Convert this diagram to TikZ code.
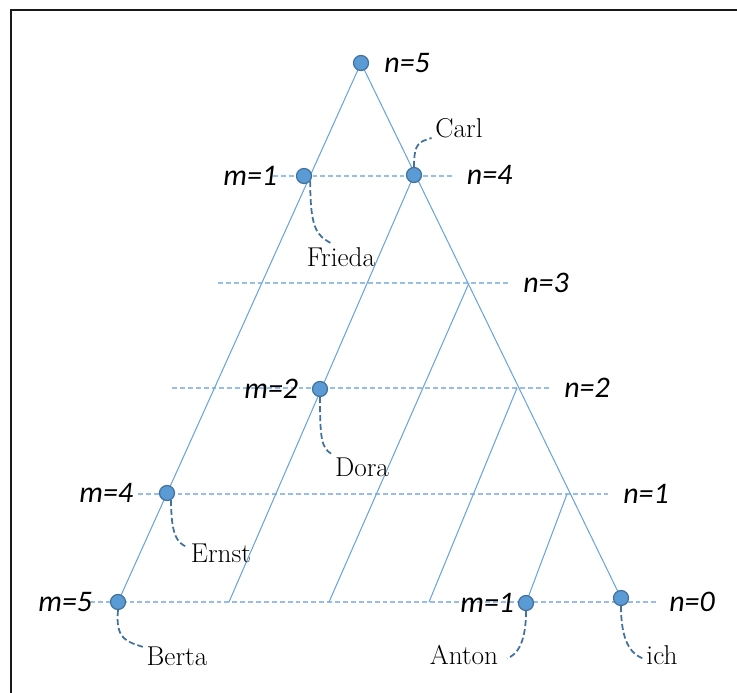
\documentclass[tikz,border=0pt]{standalone}
\usepackage{fontspec}
\usepackage{tikz}
\usetikzlibrary{positioning}
\newfontfamily\calibrifont{Carlito}
\definecolor{dotblue}{RGB}{91,155,213}
\definecolor{dotedge}{RGB}{65,113,156}
\definecolor{lineblue}{RGB}{108,164,220}
\definecolor{rowblue}{RGB}{150,190,230}

\begin{document}
\begin{tikzpicture}[x=0.02cm, y=0.02cm,
    dot/.style={circle, fill=dotblue, draw=dotedge, line width=0.7pt, minimum size=0.3cm, inner sep=0pt},
    tri/.style={lineblue, line width=0.6pt},
    rowline/.style={rowblue, line width=0.6pt, dash pattern=on 2.8pt off 1.7pt},
    callout/.style={dotedge, line width=1pt, dash pattern=on 3.4pt off 1.7pt},
    eq/.style={font=\calibrifont\itshape\fontsize{17}{20}\selectfont, inner sep=2pt},
    person/.style={font=\fontsize{15.5}{18}\selectfont, inner sep=2pt}]
    \useasboundingbox (0,0) rectangle (737,-693);
    % frame
    \draw[line width=1.1pt, black!90] (11,-693) -- (11,-10) -- (737,-10);

    % points of the triangle
    \coordinate (p5) at (361,-63);
    \coordinate (pF) at (304,-176);
    \coordinate (pC) at (414,-175);
    \coordinate (pD) at (320,-389);
    \coordinate (pE) at (167,-493);
    \coordinate (pB) at (118,-602);
    \coordinate (pA) at (526,-603);
    \coordinate (pI) at (621,-598);
    \coordinate (r3) at (469,-283);
    \coordinate (r2) at (517,-388);
    \coordinate (r1) at (567,-494);
    \coordinate (b4) at (229,-602);
    \coordinate (b3) at (329,-602);
    \coordinate (b2) at (429,-602);

    % ends of the rows
    \coordinate (h4w) at (273,-176);  \coordinate (h4e) at (453,-176);
    \coordinate (h3w) at (218,-283);  \coordinate (h3e) at (508,-283);
    \coordinate (h2w) at (172,-388);  \coordinate (h2e) at (550,-388);
    \coordinate (h1w) at (138,-494);  \coordinate (h1e) at (608,-494);
    \coordinate (h0w) at (90,-602);   \coordinate (h0e) at (657,-602);

    \foreach \i in {0,...,4}
        \draw[rowline] (h\i w) -- (h\i e);

    \draw[tri] (p5) -- (pB);
    \draw[tri] (p5) -- (pI);
    \foreach \a/\b in {b4/pC, b3/r3, b2/r2, pA/r1}
        \draw[tri] (\a) -- (\b);

    \foreach \d in {5,F,C,D,E,B,A,I}
        \node[dot] (d\d) at (p\d) {};

    % n and m
    \node[eq, right=0.23cm of d5] (n5) {n=5};
    \node[eq, right=0.82cm of dC] (n4) {n=4};
    \node[eq, right=0.23cm of h3e] (n3) {n=3};
    \node[eq, right=0.21cm of h2e] (n2) {n=2};
    \node[eq, right=0.23cm of h1e] (n1) {n=1};
    \node[eq, right=0.17cm of h0e] (n0) {n=0};
    \node[eq, left=0.3cm of dF] (m1a) {m=1};
    \node[eq, left=0.2cm of dD] (m2) {m=2};
    \node[eq, left=0.44cm of dE] (m4) {m=4};
    \node[eq, left=0.28cm of dB] (m5) {m=5};
    \node[eq, left=0cm of dA] (m1b) {m=1};

    % names
    \node[person] (lC) at (459,-128) {Carl};
    \node[person] (lF) at (341,-257) {Frieda};
    \node[person] (lD) at (362,-467) {Dora};
    \node[person] (lE) at (221,-553) {Ernst};
    \node[person] (lB) at (177,-656) {Berta};
    \node[person] (lA) at (464,-655) {Anton};
    \node[person] (lI) at (662,-655) {ich};

    \draw[callout] (dC.north) .. controls +(0,25) and +(-12,-4) .. (lC.200);
    \draw[callout] (dF.-40) .. controls +(0,-50) and +(-14,8) .. (lF.125);
    \draw[callout] (dD.south) .. controls +(0,-40) and +(-10,6) .. (lD.north west);
    \draw[callout] (dE.-60) .. controls +(0,-35) and +(-10,4) .. (lE.170);
    \draw[callout] (dB.south) .. controls +(-3,-30) and +(-15,5) .. (lB.165);
    \draw[callout] (dA.south) .. controls +(0,-35) and +(8,3) .. ([xshift=3pt]lA.-5);
    \draw[callout] (dI.south) .. controls +(0,-35) and +(-12,5) .. (lI.190);
\end{tikzpicture}
\end{document}
